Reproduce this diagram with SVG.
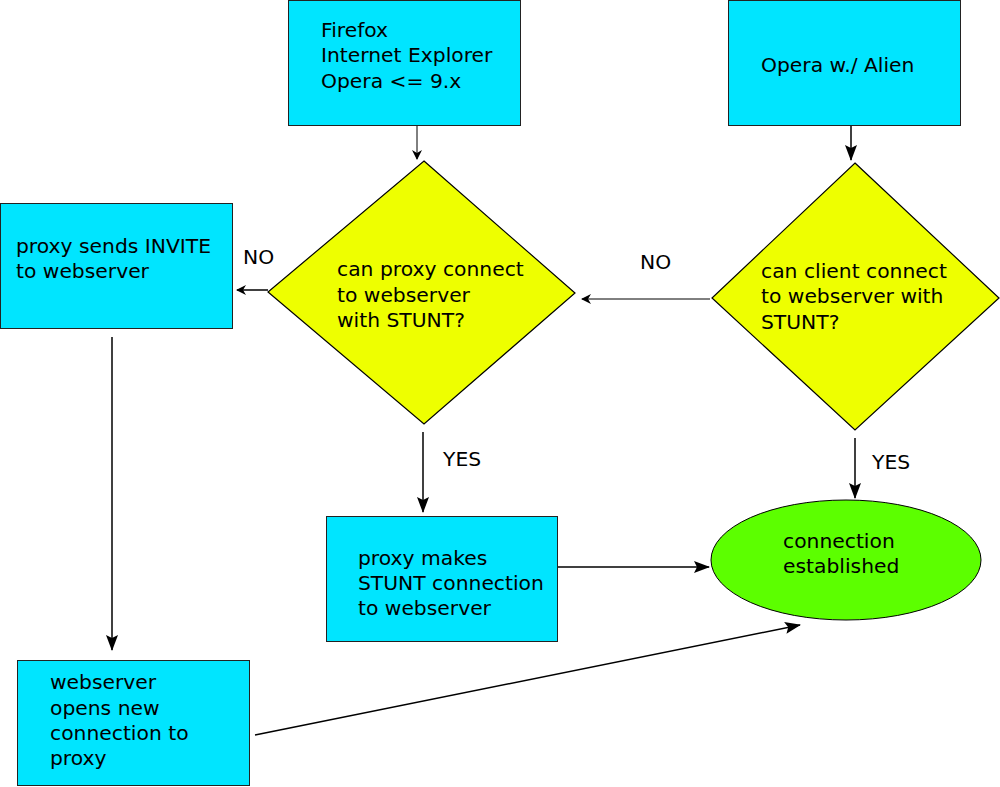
<svg xmlns="http://www.w3.org/2000/svg" width="1000" height="787" viewBox="0 0 1000 787">
<style>
.box{fill:#00e5ff;stroke:#222;stroke-width:1}
.dia{fill:#eeff00;stroke:#000;stroke-width:1.2}
.ell{fill:#5cff00;stroke:#000;stroke-width:1}
text{font-family:"DejaVu Sans",sans-serif;font-size:20.3px;fill:#000}
.c{fill:none;stroke:#000;stroke-width:1.5}
</style>
<defs>
<marker id="as" markerUnits="userSpaceOnUse" markerWidth="12" markerHeight="12" refX="9" refY="5" orient="auto">
<path d="M0,0 L10,5 L0,10 L3,5 Z" fill="#000"/>
</marker>
<marker id="al" markerUnits="userSpaceOnUse" markerWidth="18" markerHeight="14" refX="15" refY="6" orient="auto">
<path d="M0,0 L16,6 L0,12 L3,6 Z" fill="#000"/>
</marker>
</defs>
<rect width="1000" height="787" fill="#fff"/>
<g id="connectors">
<line class="c" x1="417" y1="126" x2="417" y2="159" marker-end="url(#as)" style="stroke-width:1"/>
<line class="c" x1="851" y1="126" x2="851" y2="160" marker-end="url(#al)"/>
<line class="c" x1="268" y1="290" x2="237" y2="290" marker-end="url(#as)"/>
<line class="c" x1="710" y1="299" x2="582" y2="299" marker-end="url(#as)" style="stroke-width:1"/>
<line class="c" x1="423" y1="432" x2="423" y2="512" marker-end="url(#al)"/>
<line class="c" x1="855" y1="438" x2="855" y2="498" marker-end="url(#al)"/>
<line class="c" x1="558" y1="567" x2="709" y2="567" marker-end="url(#al)"/>
<line class="c" x1="112" y1="337" x2="112" y2="650" marker-end="url(#al)"/>
<line class="c" x1="255" y1="735" x2="800" y2="625" marker-end="url(#al)"/>
<text x="243" y="264">NO</text>
<text x="640" y="269">NO</text>
<text x="443" y="466">YES</text>
<text x="872" y="469">YES</text>
</g>
<g id="browsers">
<rect class="box" x="288.5" y="0.5" width="232" height="125"/>
<text x="321" y="37">Firefox</text>
<text x="321" y="62">Internet Explorer</text>
<text x="321" y="88">Opera &lt;= 9.x</text>
</g>
<g id="opera-alien">
<rect class="box" x="728.5" y="0.5" width="232" height="125"/>
<text x="761" y="72">Opera w./ Alien</text>
</g>
<g id="proxy-stunt-question">
<polygon class="dia" points="424,161 575,293 424,424 268,292"/>
<text x="337" y="276">can proxy connect</text>
<text x="337" y="302">to webserver</text>
<text x="337" y="327">with STUNT?</text>
</g>
<g id="client-stunt-question">
<polygon class="dia" points="855,163 999,298 855,430 712,298"/>
<text x="761" y="278">can client connect</text>
<text x="761" y="303">to webserver with</text>
<text x="761" y="329">STUNT?</text>
</g>
<g id="proxy-invite">
<rect class="box" x="0.5" y="203.5" width="232" height="125"/>
<text x="16" y="253">proxy sends INVITE</text>
<text x="16" y="278">to webserver</text>
</g>
<g id="proxy-makes">
<rect class="box" x="326.5" y="516.5" width="231" height="125"/>
<text x="358" y="565">proxy makes</text>
<text x="358" y="590">STUNT connection</text>
<text x="358" y="615">to webserver</text>
</g>
<g id="established">
<ellipse class="ell" cx="846" cy="560" rx="135" ry="60"/>
<text x="783" y="548">connection</text>
<text x="783" y="573">established</text>
</g>
<g id="webserver-opens">
<rect class="box" x="17.5" y="660.5" width="232" height="125"/>
<text x="50" y="689">webserver</text>
<text x="50" y="715">opens new</text>
<text x="50" y="740">connection to</text>
<text x="50" y="765">proxy</text>
</g>
</svg>
